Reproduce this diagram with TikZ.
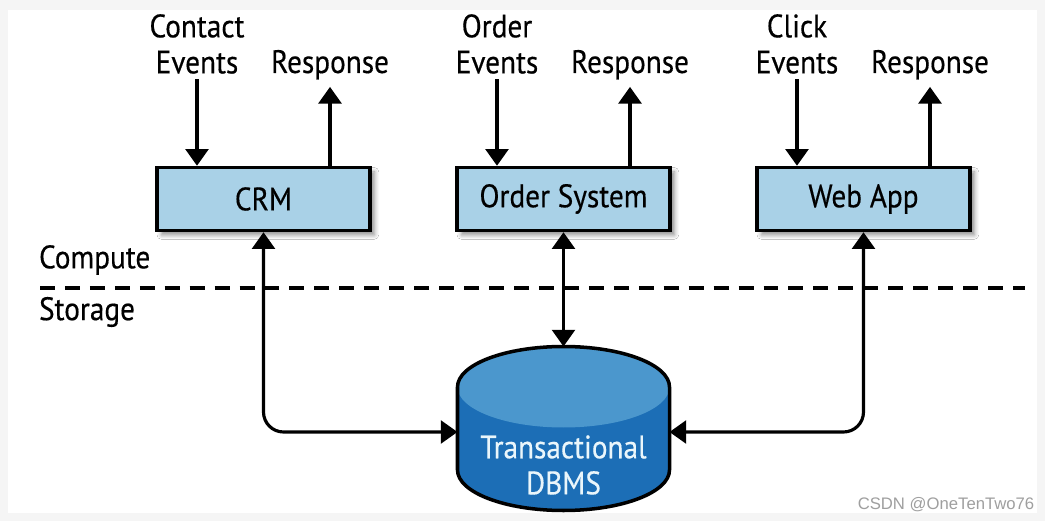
\documentclass[tikz,border=0pt]{standalone}
\usepackage{fontspec}
\setmainfont[FakeStretch=0.9,FakeBold=0.4]{PT Sans}
\newfontfamily\markfont{Liberation Sans}
\usetikzlibrary{arrows.meta,shadows.blur}
\definecolor{boxblue}{HTML}{A9D1E7}
\definecolor{dbtop}{HTML}{4B97CD}
\definecolor{dbside}{HTML}{1C6EB6}
\definecolor{dbtext}{HTML}{EAF6FB}
\begin{document}
\begin{tikzpicture}[x=0.02cm,y=0.02cm,
        txt/.style={font=\fontsize{18.5}{20.5}\selectfont},
        app/.style={txt,draw,line width=2pt,fill=boxblue,inner sep=0pt,
            minimum width=4.26cm,minimum height=1.26cm,
            blur shadow={shadow xshift=2.5pt,shadow yshift=-2.5pt,shadow blur radius=2.5pt,shadow opacity=45}},
        lbl/.style={txt,align=center,inner sep=1pt},
        tip/.tip={Triangle[length=9.5pt,width=13pt]},
        flow/.style={line width=1.8pt,-tip},
        both/.style={line width=1.8pt,tip-tip}]
    \useasboundingbox (0,0) rectangle (1045,521);
    \fill[gray!8] (0,0) rectangle (1045,521);
    \fill[white] (8,8) rectangle (1037,511);

    % applications
    \node[app] (crm) at (263.5,322) {CRM};
    \node[app] (ord) at (563.5,322) {Order System};
    \node[app] (web) at (863.5,322) {Web App};

    % events in, responses out
    \node[lbl] (crmin) at (197,477) {Contact\\Events};
    \node[lbl] (ordin) at (497,477) {Order\\Events};
    \node[lbl] (webin) at (797,477) {Click\\Events};
    \node[lbl,anchor=base] (crmout) at (330,448) {Response};
    \node[lbl,anchor=base] (ordout) at (630,448) {Response};
    \node[lbl,anchor=base] (webout) at (930,448) {Response};
    \draw[flow,shorten <=2pt] (crmin) -- (crmin |- crm.north);
    \draw[flow,shorten <=2pt] (ordin) -- (ordin |- ord.north);
    \draw[flow,shorten <=2pt] (webin) -- (webin |- web.north);
    \draw[flow,shorten >=3pt] (crmout |- crm.north) -- (crmout);
    \draw[flow,shorten >=3pt] (ordout |- ord.north) -- (ordout);
    \draw[flow,shorten >=3pt] (webout |- web.north) -- (webout);

    % compute / storage split
    \node[lbl,anchor=west] (cmp) at (37,261) {Compute};
    \node[lbl,anchor=west] (sto) at (37,209) {Storage};
    \draw[line width=1.8pt,dash pattern=on 8.5pt off 5.7pt] (40,233) -- (1025,233);

    % database
    \fill[dbside] (457.5,134) -- (457.5,51)
        arc[start angle=180,end angle=360,x radius=106,y radius=40.5] -- (669.5,134) -- cycle;
    \fill[dbtop] (563.5,134) ellipse[x radius=106,y radius=40.5];
    \draw[line width=2pt] (457.5,134) -- (457.5,51)
        arc[start angle=180,end angle=360,x radius=106,y radius=40.5] -- (669.5,134)
        arc[start angle=0,end angle=180,x radius=106,y radius=40.5] -- cycle;
    \node[lbl,text=dbtext] (db) at (563.5,56) {Transactional\\DBMS};
    \coordinate (dbn) at (563.5,174.5);
    \coordinate (dbw) at (457.5,89);
    \coordinate (dbe) at (669.5,89);

    \draw[both] (ord) -- (dbn);
    \draw[both,rounded corners=0.4cm] (crm) |- (dbw);
    \draw[both,rounded corners=0.4cm] (web) |- (dbe);

    \node[font=\markfont\fontsize{9.5}{11}\selectfont,text=gray!75] (mark) at (946,16) {CSDN @OneTenTwo76};
\end{tikzpicture}
\end{document}
